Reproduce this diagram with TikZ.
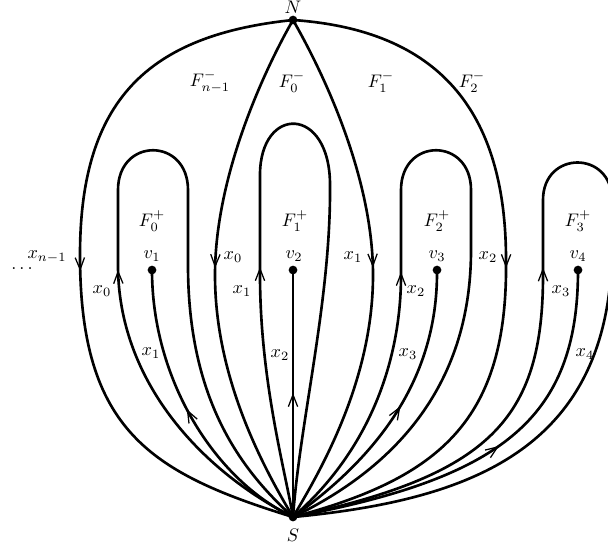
\documentclass[tikz,border=0pt]{standalone}
\usepackage{amsmath,amssymb}
\usetikzlibrary{arrows.meta,positioning,decorations.markings}
\tikzset{
  curve/.style={line width=1.45pt, line join=round},
  midarrow/.style={postaction={decorate}, decoration={markings,
      mark=at position #1 with {\arrow{Straight Barb[length=2.3mm,width=1.8mm,line width=0.7pt]}}}},
  lab/.style={inner sep=0pt},
}

\begin{document}
\begin{tikzpicture}[x=0.55pt, y=-0.55pt]
    \useasboundingbox (0,0) rectangle (608,548);
    % poles and the points v_i
    \coordinate (N) at (293,20);
    \coordinate (S) at (293,517);
    \coordinate (v1) at (152,270);
    \coordinate (v2) at (293,270);
    \coordinate (v3) at (437,270);
    \coordinate (v4) at (578,270);
    % the four arcs N -> S
    \draw[curve, midarrow=0.512] (N) .. controls (148,35) and (80,100) .. (80,255)
                                     .. controls (80,430) and (150,473) .. (S);
    \draw[curve, midarrow=0.498] (N) .. controls (270,60) and (215,170) .. (215,275)
                                     .. controls (215,380) and (265,470) .. (S);
    \draw[curve, midarrow=0.497] (N) .. controls (316,60) and (373,170) .. (373,275)
                                     .. controls (373,380) and (321,470) .. (S);
    \draw[curve, midarrow=0.506] (N) .. controls (438,30) and (506,110) .. (506,260)
                                     .. controls (508,420) and (440,478) .. (S);
    % loops S -> S round the faces F^+
    \draw[curve, midarrow=0.364] (S) .. controls (200,470) and (118,380) .. (118,265) -- (118,190)
                                     .. controls (118,137) and (188,137) .. (188,190) -- (188,265)
                                     .. controls (188,400) and (241,470) .. (S);
    \draw[curve, midarrow=0.306] (S) .. controls (285,470) and (260,380) .. (260,275) -- (260,175)
                                     .. controls (260,105) and (330,105) .. (330,185)
                                     .. controls (331,300) and (300,420) .. (S);
    \draw[curve, midarrow=0.315] (S) .. controls (370,450) and (401,360) .. (401,275) -- (401,190)
                                     .. controls (401,137) and (471,137) .. (471,190) -- (471,250)
                                     .. controls (471,390) and (390,470) .. (S);
    \draw[curve, midarrow=0.362] (S) .. controls (489,475) and (543,420) .. (543,275) -- (543,200)
                                     .. controls (543,150) and (612,150) .. (612,200) -- (612,240)
                                     .. controls (614,450) and (470,500) .. (S);
    % edges S -> v_i
    \draw[curve, midarrow=0.515] (S) .. controls (215,480) and (152,380) .. (v1);
    \draw[curve, midarrow=0.502] (S) -- (v2);
    \draw[curve, midarrow=0.521] (S) .. controls (370,462) and (438,385) .. (v3);
    \draw[curve, midarrow=0.521] (S) .. controls (500,478) and (578,420) .. (v4);
    % dots
    \fill (N) circle (2.4pt); \fill (S) circle (2.4pt);
    \fill (v1) circle (2.4pt); \fill (v2) circle (2.4pt);
    \fill (v3) circle (2.4pt); \fill (v4) circle (2.4pt);
    % vertex labels
    \node[lab] (Nl) at (293,7) {$N$};
    \node[lab] (Sl) at (293,535) {$S$};
    \node[lab] (v1l) at (152,256) {$v_1$};
    \node[lab] (v2l) at (294,256) {$v_2$};
    \node[lab] (v3l) at (437,256) {$v_3$};
    \node[lab] (v4l) at (578,256) {$v_4$};
    % faces
    \node[lab] (fm3) at (210,82) {$F^-_{n-1}$};
    \node[lab] (fm0) at (292,82) {$F^-_0$};
    \node[lab] (fm1) at (381,82) {$F^-_1$};
    \node[lab] (fm2) at (472,82) {$F^-_2$};
    \node[lab] (fp0) at (152,221) {$F^+_0$};
    \node[lab] (fp1) at (295,221) {$F^+_1$};
    \node[lab] (fp2) at (437,221) {$F^+_2$};
    \node[lab] (fp3) at (578,221) {$F^+_3$};
    % edge labels
    \node[lab, anchor=base] (dots) at (22,269) {$\ldots$};
    \node[lab] (xa) at (47,257) {$x_{n-1}$};
    \node[lab] (xb) at (233,257) {$x_0$};
    \node[lab] (xc) at (353,257) {$x_1$};
    \node[lab] (xd) at (488,257) {$x_2$};
    \node[lab] (xe) at (102,291) {$x_0$};
    \node[lab] (xf) at (242,291) {$x_1$};
    \node[lab] (xg) at (416,291) {$x_2$};
    \node[lab] (xh) at (561,291) {$x_3$};
    \node[lab] (xi) at (151,353) {$x_1$};
    \node[lab] (xj) at (280,355) {$x_2$};
    \node[lab] (xk) at (408,354) {$x_3$};
    \node[lab] (xl) at (585,354) {$x_4$};
  \end{tikzpicture}
\end{document}
